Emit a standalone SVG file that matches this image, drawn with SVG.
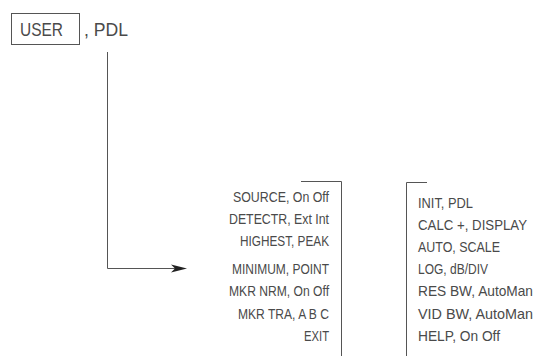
<svg xmlns="http://www.w3.org/2000/svg" width="553" height="356" viewBox="0 0 553 356">
<style>
.t{font-family:"Liberation Sans",Arial,sans-serif;font-size:14.5px;fill:#4a4a4a}
.l{text-anchor:end}
.ln{fill:none;stroke:#555;stroke-width:1}
</style>
<rect width="553" height="356" fill="#fff"/>
<g id="user">
<rect class="ln" x="11.5" y="13.5" width="68" height="31"/>
<text class="t" x="20" y="36" style="font-size:18px" textLength="43" lengthAdjust="spacingAndGlyphs">USER</text>
<text class="t" x="84" y="36" style="font-size:18px" textLength="44" lengthAdjust="spacingAndGlyphs">, PDL</text>
</g>
<g id="connectors">
<path class="ln" d="M107.5,52 V268.5 H175"/>
<polygon points="187,268.5 171,264.5 175,268.5 171,272.5" fill="#222"/>
</g>
<g id="menu-left">
<path class="ln" d="M301,181.5 H341.5 V356"/>
<text class="t l" x="329" y="202" textLength="96" lengthAdjust="spacingAndGlyphs">SOURCE, On Off</text>
<text class="t l" x="329" y="224" textLength="100" lengthAdjust="spacingAndGlyphs">DETECTR, Ext Int</text>
<text class="t l" x="329" y="246" textLength="89" lengthAdjust="spacingAndGlyphs">HIGHEST, PEAK</text>
<text class="t l" x="329" y="273.5" textLength="97" lengthAdjust="spacingAndGlyphs">MINIMUM, POINT</text>
<text class="t l" x="329" y="296" textLength="100" lengthAdjust="spacingAndGlyphs">MKR NRM, On Off</text>
<text class="t l" x="329" y="319" textLength="91" lengthAdjust="spacingAndGlyphs">MKR TRA, A B C</text>
<text class="t l" x="329" y="341" textLength="25" lengthAdjust="spacingAndGlyphs">EXIT</text>
</g>
<g id="menu-right">
<path class="ln" d="M427,182.5 H406.5 V356"/>
<text class="t" x="418" y="208" textLength="55" lengthAdjust="spacingAndGlyphs">INIT, PDL</text>
<text class="t" x="418" y="230" textLength="109" lengthAdjust="spacingAndGlyphs">CALC +, DISPLAY</text>
<text class="t" x="418" y="251.5" textLength="82" lengthAdjust="spacingAndGlyphs">AUTO, SCALE</text>
<text class="t" x="418" y="273.5" textLength="70" lengthAdjust="spacingAndGlyphs">LOG, dB/DIV</text>
<text class="t" x="418" y="296" textLength="115" lengthAdjust="spacingAndGlyphs">RES BW, AutoMan</text>
<text class="t" x="418" y="318.5" textLength="115" lengthAdjust="spacingAndGlyphs">VID BW, AutoMan</text>
<text class="t" x="418" y="341" textLength="82" lengthAdjust="spacingAndGlyphs">HELP, On Off</text>
</g>
</svg>
